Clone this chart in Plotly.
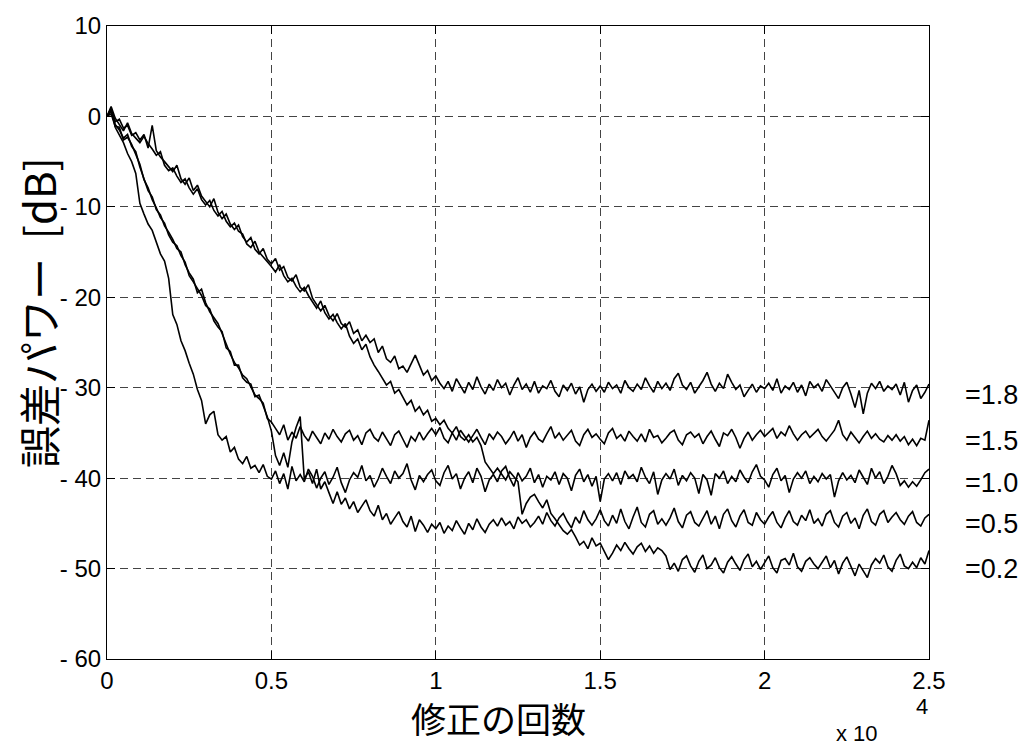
import plotly.graph_objects as go

# Iteration count sampled every 125 updates (0 ... 25000)
ITER_STEP = 125
iterations = list(range(0, 25001, ITER_STEP))

step_labels = ["=1.8", "=1.5", "=1.0", "=0.5", "=0.2"]

x_tick_vals = [0, 5000, 10000, 15000, 20000, 25000]
x_tick_text = ["0", "0.5", "1", "1.5", "2", "2.5"]
y_tick_vals = [10, 0, -10, -20, -30, -40, -50, -60]
y_tick_text = ["10", "0", "- 10", "- 20", "- 30", "- 40", "- 50", "- 60"]

# Error power [dB], one row per 1000 iterations
err_mu18 = [
    0.0, 0.9, -0.6, -0.3, -1.3, -1.0, -2.1, -1.8,
    -2.6, -2.0, -3.5, -1.0, -3.8, -4.5, -5.0, -5.6,
    -6.1, -5.4, -6.9, -7.5, -6.8, -8.2, -7.6, -8.8,
    -9.4, -10.0, -9.1, -10.6, -11.3, -10.8, -11.9, -12.5,
    -12.0, -13.3, -13.9, -13.4, -14.7, -15.2, -14.6, -15.8,
    -16.3, -15.7, -17.0, -16.6, -17.8, -18.2, -17.5, -18.9,
    -19.3, -18.6, -20.1, -20.8, -21.5, -20.9, -22.0, -22.6,
    -21.8, -22.9, -23.3, -22.7, -24.0, -23.6, -24.8, -24.2,
    -25.0, -24.6, -26.1, -25.4, -26.8, -27.2, -26.5, -27.9,
    -27.6, -28.3, -27.4, -26.4, -27.5, -28.6, -28.1, -29.2,
    -28.7, -29.5, -30.1, -29.3, -30.4, -29.0, -29.8, -30.6,
    -29.4, -30.2, -28.8, -29.9, -30.7, -29.6, -30.3, -29.1,
    -30.0, -29.5, -30.8, -29.7, -28.9, -30.2, -29.6, -30.5,
    -29.3, -30.6, -29.8, -30.1, -29.2, -30.4, -31.0, -29.7,
    -30.3, -29.5, -30.7, -29.9, -31.6, -30.2, -29.6, -30.4,
    -29.8, -30.5, -29.4, -30.1, -29.7, -30.6, -29.2, -30.0,
    -30.4, -29.6, -30.2, -28.9, -29.8, -30.5, -29.3, -30.1,
    -29.5, -30.3, -29.0, -28.4, -29.7, -30.2, -29.4, -30.6,
    -29.9, -29.2, -28.3, -29.6, -30.4, -29.5, -30.1, -28.5,
    -29.4, -30.2, -29.7, -31.0, -30.3, -29.6, -30.5, -29.8,
    -30.1, -29.5, -30.3, -29.0, -30.6, -29.8, -30.2, -29.4,
    -30.5, -29.7, -30.9, -29.3, -30.0, -29.6, -30.4, -29.1,
    -29.8, -30.5, -31.2, -30.0, -29.4, -30.7, -32.2, -30.3,
    -32.9, -30.6, -29.5, -30.1, -29.3, -30.4, -29.8, -30.2,
    -29.6, -30.8, -29.4, -31.6, -30.3, -29.7, -31.2, -30.5,
    -29.6,
]

err_mu15 = [
    0.0, 0.6, -0.9, -1.5, -2.4, -2.0, -3.3, -3.9,
    -5.6, -6.8, -8.2, -8.9, -10.3, -10.9, -12.1, -12.8,
    -13.6, -14.6, -15.0, -16.4, -17.3, -18.0, -19.5, -19.1,
    -20.6, -21.6, -22.3, -22.9, -24.0, -25.2, -26.3, -27.2,
    -27.8, -28.6, -29.0, -29.9, -30.8, -31.2, -31.7, -33.4,
    -33.8, -34.5, -35.2, -34.1, -35.8, -34.9, -35.6, -34.3,
    -35.3, -35.9, -34.8, -35.5, -36.2, -35.0, -35.7, -34.6,
    -35.4, -36.0, -35.1, -34.7, -35.8, -35.3, -36.3, -35.0,
    -34.6, -35.5, -35.9, -34.9, -35.6, -36.4, -35.2, -34.8,
    -35.7, -36.6, -35.4, -35.9, -34.9, -35.8, -35.1, -34.5,
    -35.2, -34.4, -35.6, -36.1, -35.0, -35.8, -34.7, -35.4,
    -36.0, -35.3, -34.6, -35.5, -36.3, -35.1, -35.7, -34.9,
    -35.4, -36.2, -35.6, -34.8, -35.9, -35.2, -36.6, -35.5,
    -34.9, -35.7, -36.0, -35.1, -34.3, -35.6, -35.0, -35.8,
    -35.3, -34.7, -35.9, -36.4, -35.2, -34.6, -35.5, -35.1,
    -35.7, -36.2, -35.0, -34.5, -35.6, -35.2, -35.9, -34.8,
    -35.4, -35.9, -35.1, -36.0, -34.6, -35.5, -35.3, -36.1,
    -35.6, -35.0, -34.7, -35.8, -36.3, -35.2, -34.9, -35.5,
    -35.1, -36.2, -35.4, -34.8, -35.7, -36.5, -35.0, -35.3,
    -34.6, -35.5, -36.7, -35.6, -34.9, -35.8, -35.2, -34.7,
    -35.4, -35.0, -34.5, -35.6, -34.9, -35.3, -34.2, -35.1,
    -35.8, -35.2, -34.8, -35.5, -35.0, -34.6, -35.4, -35.9,
    -35.3, -34.7, -33.6, -35.2, -35.8, -34.9, -35.5, -36.1,
    -35.4, -34.8, -35.6, -35.1, -35.7, -36.0, -35.3, -35.8,
    -35.2, -35.9, -35.4, -36.3, -35.7, -36.4, -35.6, -35.8,
    -33.6,
]

err_mu10 = [
    0.0, 0.8, -1.2, -2.0, -2.9, -4.1, -5.0, -6.3,
    -9.6, -10.8, -11.9, -12.6, -13.8, -15.2, -16.0, -17.9,
    -21.9, -23.0, -24.8, -25.9, -27.3, -28.5, -30.2, -31.4,
    -34.0, -33.0, -32.6, -35.2, -35.8, -35.4, -37.1, -36.6,
    -37.9, -38.4, -37.6, -38.9, -38.6, -39.4, -38.5, -39.8,
    -40.1, -39.2, -40.6, -39.5, -41.2, -38.7, -40.3, -39.6,
    -40.4, -39.0, -39.8, -41.1, -40.0, -39.3, -40.7, -39.9,
    -38.8, -40.5, -41.6, -40.2, -39.4, -39.9, -38.6, -40.3,
    -39.7, -41.0, -40.1, -38.9, -39.8, -40.6, -39.2, -40.0,
    -39.5, -38.4, -40.2, -41.3, -39.7, -40.4, -39.6, -39.1,
    -40.3, -40.8, -39.4, -38.6, -40.1, -39.5, -41.2, -40.0,
    -39.3, -40.5, -38.9, -39.8, -41.5, -40.2, -39.6, -40.4,
    -39.2, -38.7, -40.0, -40.9, -39.4, -40.3, -39.8, -38.9,
    -40.5, -39.6, -41.0, -39.8, -40.2, -39.3, -40.7, -39.5,
    -40.0, -41.4, -39.7, -39.0, -40.4, -39.6, -40.9, -39.8,
    -42.6, -40.1, -39.5, -40.3, -39.4, -40.7, -39.2, -40.0,
    -39.6, -40.4, -38.8, -39.9, -40.6, -39.3, -41.8, -40.2,
    -39.5, -40.1, -39.0, -40.8, -39.7, -40.3, -39.4, -40.0,
    -41.7, -39.6, -40.2, -41.9, -39.5, -40.0, -39.2, -40.6,
    -39.8, -40.4, -39.1, -39.9, -40.5, -39.3, -38.5, -39.8,
    -40.2, -41.0, -39.6, -38.9, -40.3, -39.7, -41.6, -40.1,
    -39.4, -40.0, -39.2, -40.6, -39.8, -40.4, -39.5, -40.1,
    -39.6, -42.1, -40.3, -39.4, -40.2, -39.7, -40.5, -39.1,
    -39.9, -40.7, -38.9, -40.0, -39.3, -40.6, -39.8, -38.6,
    -39.5, -40.8, -40.3, -41.0, -40.4, -40.9, -40.2, -39.4,
    -39.0,
]

err_mu05 = [
    0.0, 0.3, -1.1, -1.2, -2.6, -2.3, -3.1, -4.2,
    -5.3, -7.0, -7.9, -9.2, -10.1, -11.2, -11.8, -13.1,
    -13.9, -14.3, -15.4, -16.1, -17.6, -18.3, -19.0, -19.8,
    -20.9, -21.3, -22.6, -23.3, -23.8, -25.6, -26.0, -27.5,
    -27.5, -28.9, -29.4, -29.6, -31.0, -30.8, -32.0, -33.2,
    -34.8, -37.5, -38.6, -37.2, -38.8, -36.0, -34.4, -33.2,
    -40.1, -39.3, -40.6, -39.0, -41.2, -40.4, -41.6, -42.8,
    -41.5, -42.9, -42.2, -43.4, -42.6, -43.8, -43.1, -42.4,
    -43.6, -44.2, -43.0, -44.6, -43.9, -45.1, -44.4, -43.7,
    -44.8, -45.4, -44.2, -45.9, -44.6, -45.2, -46.0, -45.1,
    -45.6, -44.9, -46.1, -45.3, -45.8, -44.7, -45.5, -46.2,
    -45.0, -45.7, -44.5, -45.4, -46.0, -45.1, -44.6, -45.3,
    -44.4, -45.2, -44.8, -45.6, -44.3, -45.0, -44.6, -45.4,
    -44.9, -44.2, -45.1, -43.8, -44.7, -45.3, -44.4, -43.9,
    -44.8, -45.5, -44.3, -45.0, -43.6, -44.6, -45.2, -44.5,
    -43.5, -44.7, -45.3, -44.1, -45.0, -43.4, -44.8, -45.6,
    -44.3, -43.2, -44.9, -45.4, -44.0, -43.6, -45.1, -44.5,
    -45.2, -44.4, -43.3, -44.8, -45.5, -44.1, -43.7, -44.9,
    -45.3, -44.5, -43.6, -45.1, -44.2, -45.6, -44.0, -43.4,
    -44.7, -45.4, -44.2, -43.5, -44.9, -45.2, -43.8, -44.6,
    -45.1, -44.3, -43.7, -44.9, -45.5, -44.4, -43.6, -44.8,
    -45.2, -44.1, -44.7, -43.5, -45.0, -44.5, -45.3, -44.0,
    -43.6, -44.9, -45.4, -44.2, -43.8, -45.0, -44.4, -45.6,
    -44.1, -43.4, -44.8, -45.2, -44.0, -43.6, -44.9, -44.3,
    -43.8, -44.6, -45.1, -44.2, -43.7, -44.9, -45.3, -44.4,
    -44.0,
]

err_mu02 = [
    0.0, 1.1, -0.2, -0.9, -1.6, -0.7, -1.9, -2.4,
    -2.9, -2.2, -3.0, -3.6, -4.3, -3.9, -5.4, -6.0,
    -5.7, -6.6, -7.3, -6.9, -7.9, -8.6, -8.0, -9.2,
    -9.8, -9.3, -10.4, -11.0, -10.5, -11.6, -12.2, -11.8,
    -12.7, -13.0, -14.1, -14.5, -13.8, -15.0, -15.5, -16.1,
    -16.6, -17.2, -16.4, -17.6, -18.3, -17.9, -18.8, -19.4,
    -18.9, -19.8, -20.5, -21.2, -20.4, -21.7, -22.4, -21.9,
    -22.8, -23.5, -22.9, -24.3, -25.1, -24.6, -25.8, -25.2,
    -26.6, -27.5, -28.2, -29.0, -29.7, -29.3, -30.6, -30.2,
    -31.0, -31.9, -31.4, -32.6, -32.1, -33.0, -32.5, -33.7,
    -33.4, -34.1, -33.6, -34.5, -35.0, -34.3, -35.4, -35.8,
    -35.2, -36.0, -35.5, -36.4, -38.2, -38.8, -39.5, -38.9,
    -39.6, -40.2, -39.3, -39.8, -40.4, -44.0, -42.8, -42.1,
    -41.8, -42.6, -43.3, -42.4, -43.9, -44.5, -45.2, -45.8,
    -46.2, -45.7, -46.5, -47.4, -47.0, -47.8, -46.6, -47.5,
    -47.2, -48.1, -49.0, -48.3, -47.4, -48.0, -47.1, -47.8,
    -48.4, -47.6, -47.2, -48.1, -47.5, -48.3, -47.7, -48.0,
    -48.6, -50.1, -49.4, -50.3, -49.0, -48.6, -49.7, -50.4,
    -49.2, -48.5, -50.0, -49.6, -48.8, -49.9, -50.5, -49.3,
    -48.7, -49.5, -50.2, -49.0, -48.4, -49.8, -49.2, -50.1,
    -49.4, -48.6, -49.9, -50.5, -49.1, -48.9, -49.6, -48.3,
    -49.8, -50.3, -49.2, -48.8, -49.5, -50.0, -49.3, -48.6,
    -49.9, -49.1, -50.6, -49.4, -48.7, -49.7, -50.8, -49.5,
    -50.2, -51.0, -49.6, -48.9, -49.4, -48.5, -49.8, -50.3,
    -49.1, -48.4, -49.7, -50.0, -49.3, -49.9, -48.8, -49.5,
    -48.0,
]

curves = [err_mu18, err_mu15, err_mu10, err_mu05, err_mu02]

AXIS_FONT = "Liberation Sans, Arial, sans-serif"
JP_FONT = "Noto Sans CJK JP, sans-serif"

fig = go.Figure()
for name, values in zip(step_labels, curves):
    fig.add_trace(go.Scatter(
        x=iterations, y=values, mode="lines", name=name,
        line=dict(color="black", width=1.6), showlegend=False,
    ))

# Step-size labels placed beside the settled level of each curve
for name, values in zip(step_labels, curves):
    tail = values[-40:]
    level = sum(tail) / len(tail)
    fig.add_annotation(
        x=1.0414, xref="paper", y=level, yref="y",
        text=name, showarrow=False, xanchor="left", yanchor="middle",
        yshift=-5, font=dict(family=AXIS_FONT, size=27, color="black"),
    )

# Axis titles and the x10^4 multiplier
fig.add_annotation(
    x=-0.0852, y=0.548, xref="paper", yref="paper",
    text="誤差パワー  [dB]", textangle=-90, showarrow=False,
    xanchor="center", yanchor="middle",
    font=dict(family=JP_FONT, size=42, color="black"),
)
fig.add_annotation(
    x=0.4757, y=-0.136, xref="paper", yref="paper",
    text="修正の回数", showarrow=False,
    xanchor="center", yanchor="bottom",
    font=dict(family=JP_FONT, size=35, color="black"),
)
fig.add_annotation(
    x=0.9404, y=-0.117, xref="paper", yref="paper",
    text="x 10", showarrow=False, xanchor="right", yanchor="middle",
    font=dict(family=AXIS_FONT, size=22, color="black"),
)
fig.add_annotation(
    x=0.9915, y=-0.0754, xref="paper", yref="paper",
    text="4", showarrow=False, xanchor="center", yanchor="middle",
    font=dict(family=AXIS_FONT, size=22, color="black"),
)

axis_common = dict(
    showline=True, linecolor="black", linewidth=1, mirror="ticks",
    ticks="inside", ticklen=8, tickcolor="black", tickwidth=1,
    showgrid=True, gridcolor="#444444", gridwidth=1, griddash="8px,5px",
    zeroline=False, tickfont=dict(family=AXIS_FONT, size=24, color="black"),
)

fig.update_xaxes(
    range=[0, 25000], tickmode="array", tickvals=x_tick_vals,
    ticktext=x_tick_text, **axis_common,
)
fig.update_yaxes(
    range=[-60, 10], tickmode="array", tickvals=y_tick_vals,
    ticktext=y_tick_text, **axis_common,
)

fig.update_layout(
    width=1023, height=747,
    margin=dict(l=107, r=94, t=22, b=88),
    paper_bgcolor="white", plot_bgcolor="white",
)

fig.write_html("out.html", include_plotlyjs=True)
